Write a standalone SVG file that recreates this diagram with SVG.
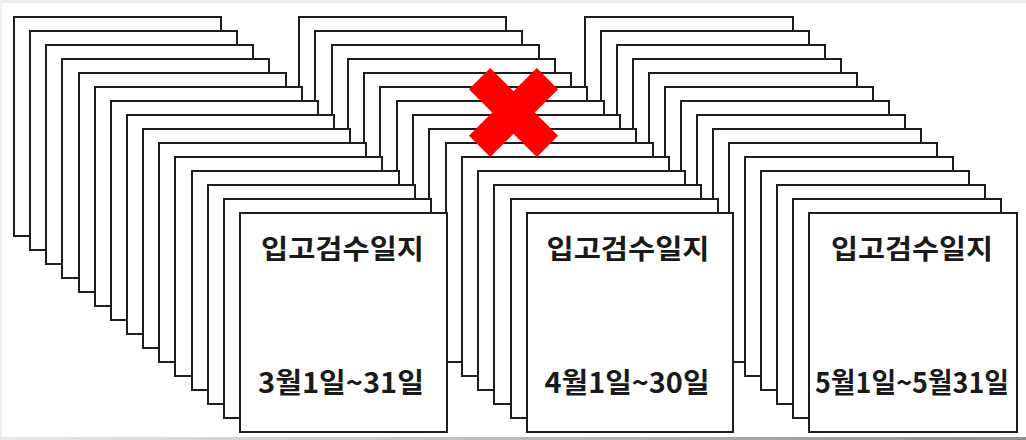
<svg xmlns="http://www.w3.org/2000/svg" width="1026" height="440" viewBox="0 0 1026 440">
<defs>
<style>
.pg{fill:#ffffff;stroke:#1e1e1e;stroke-width:2}
.t{font-family:"Noto Sans CJK KR","Noto Sans",sans-serif;font-weight:700;fill:#1a1a1a;text-anchor:middle}
.ti{font-size:27px}
.dt{font-size:28px}
.x{fill:#ff0000}
</style>
<linearGradient id="bot" x1="0" y1="0" x2="1" y2="0">
<stop offset="0" stop-color="#e8e8e8"/>
<stop offset="1" stop-color="#8e8e8e"/>
</linearGradient>
</defs>
<rect x="0" y="0" width="1026" height="440" fill="#ffffff"/>
<rect x="0" y="0" width="1026" height="3" fill="#ececec"/>
<rect x="0" y="0" width="2" height="440" fill="#efefef"/>
<rect x="0" y="437" width="1026" height="3" fill="url(#bot)"/>

<g id="stack3">
<rect class="pg" x="585" y="17" width="208" height="219"/>
<rect class="pg" x="601" y="31" width="208" height="219"/>
<rect class="pg" x="617" y="45" width="208" height="219"/>
<rect class="pg" x="633" y="59" width="208" height="219"/>
<rect class="pg" x="649" y="73" width="208" height="219"/>
<rect class="pg" x="665" y="87" width="208" height="219"/>
<rect class="pg" x="681" y="101" width="208" height="219"/>
<rect class="pg" x="697" y="115" width="208" height="219"/>
<rect class="pg" x="713" y="129" width="208" height="219"/>
<rect class="pg" x="729" y="143" width="208" height="219"/>
<rect class="pg" x="745" y="157" width="208" height="219"/>
<rect class="pg" x="761" y="171" width="208" height="219"/>
<rect class="pg" x="777" y="185" width="208" height="219"/>
<rect class="pg" x="793" y="199" width="208" height="219"/>
<g id="page-may">
<rect class="pg" x="809" y="213" width="208" height="219"/>
<text class="t ti" x="912" y="259" textLength="162" lengthAdjust="spacingAndGlyphs">입고검수일지</text>
<text class="t dt" x="912" y="393" textLength="194" lengthAdjust="spacingAndGlyphs">5월1일~5월31일</text>
</g>
</g>

<g id="stack2">
<rect class="pg" x="299" y="17" width="207" height="219"/>
<rect class="pg" x="315" y="31" width="207" height="219"/>
<rect class="pg" x="332" y="45" width="207" height="219"/>
<rect class="pg" x="348" y="59" width="207" height="219"/>
<rect class="pg" x="364" y="73" width="207" height="219"/>
<rect class="pg" x="380" y="87" width="207" height="219"/>
<rect class="pg" x="397" y="101" width="207" height="219"/>
<rect class="pg" x="413" y="115" width="207" height="219"/>
<rect class="pg" x="429" y="129" width="207" height="219"/>
<rect class="pg" x="446" y="143" width="207" height="219"/>
<rect class="pg" x="462" y="157" width="207" height="219"/>
<rect class="pg" x="478" y="171" width="207" height="219"/>
<rect class="pg" x="494" y="185" width="207" height="219"/>
<rect class="pg" x="511" y="199" width="207" height="219"/>
<g id="page-apr">
<rect class="pg" x="527" y="213" width="206" height="219"/>
<text class="t ti" x="628" y="259" textLength="163" lengthAdjust="spacingAndGlyphs">입고검수일지</text>
<text class="t dt" x="627" y="393" textLength="165" lengthAdjust="spacingAndGlyphs">4월1일~30일</text>
</g>
</g>

<g id="stack1">
<rect class="pg" x="14" y="17" width="207" height="219"/>
<rect class="pg" x="30" y="31" width="207" height="219"/>
<rect class="pg" x="46" y="45" width="207" height="219"/>
<rect class="pg" x="62" y="59" width="207" height="219"/>
<rect class="pg" x="79" y="73" width="207" height="219"/>
<rect class="pg" x="95" y="87" width="207" height="219"/>
<rect class="pg" x="111" y="101" width="207" height="219"/>
<rect class="pg" x="127" y="115" width="207" height="219"/>
<rect class="pg" x="143" y="129" width="207" height="219"/>
<rect class="pg" x="159" y="143" width="207" height="219"/>
<rect class="pg" x="175" y="157" width="207" height="219"/>
<rect class="pg" x="192" y="171" width="207" height="219"/>
<rect class="pg" x="208" y="185" width="207" height="219"/>
<rect class="pg" x="224" y="199" width="207" height="219"/>
<g id="page-mar">
<rect class="pg" x="240" y="213" width="207" height="219"/>
<text class="t ti" x="342.5" y="259" textLength="163" lengthAdjust="spacingAndGlyphs">입고검수일지</text>
<text class="t dt" x="341" y="393" textLength="166" lengthAdjust="spacingAndGlyphs">3월1일~31일</text>
</g>
</g>

<g id="cross" transform="translate(513.5 112.5)">
<rect class="x" x="-48" y="-15" width="96" height="30" transform="rotate(45)"/>
<rect class="x" x="-48" y="-15" width="96" height="30" transform="rotate(-45)"/>
</g>
</svg>
